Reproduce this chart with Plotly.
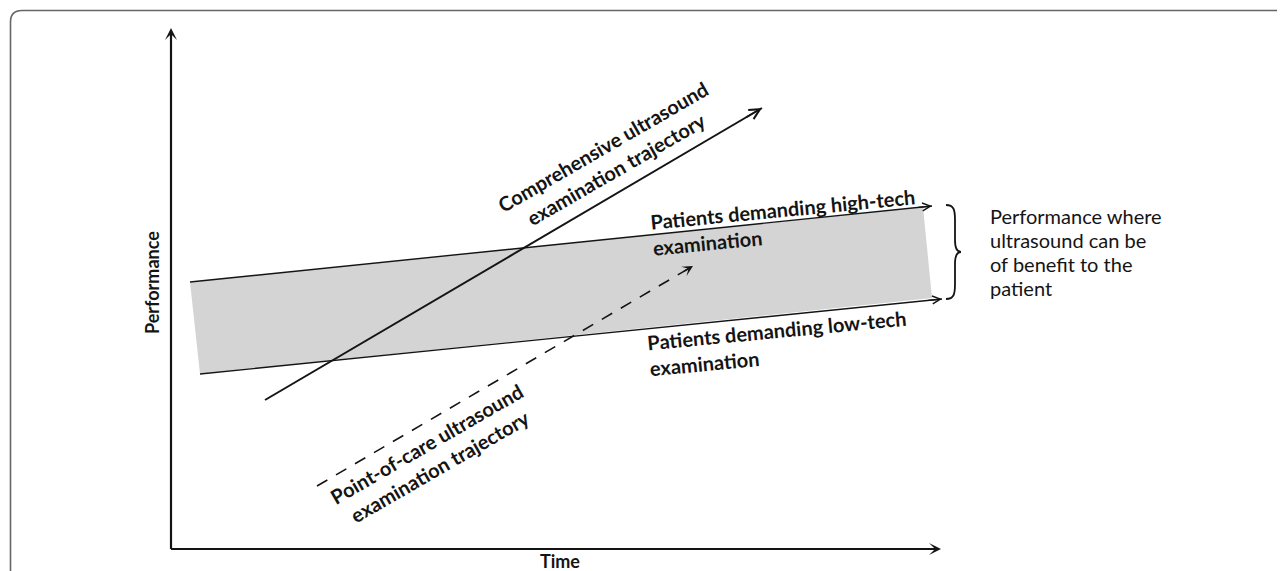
import plotly.graph_objects as go

W, H = 1285, 571
OFF = 8  # page body margin

# --- diagram data (pixel-space coordinates of the conceptual chart) ---
axis_origin = [171, 549]
y_axis_tip = [171, 28]
x_axis_tip = [941, 549]

band_top_x = [190, 932]
band_top_y = [282, 206]
band_bottom_x = [200, 942]
band_bottom_y = [374, 299]
band_fill_x = [190, 923, 932, 200]
band_fill_y = [282, 207, 298, 374]

comp_x = [265, 762]
comp_y = [400, 108]
poc_x = [317, 693]
poc_y = [486, 266]

note_lines = ["Performance where", "ultrasound can be", "of benefit to the", "patient"]
note_y = [216, 240, 264, 288]

FONT = "Lato"
INK = "#141414"

fig = go.Figure()

# gray band
fig.add_trace(go.Scatter(x=band_fill_x, y=band_fill_y, fill="toself", mode="none",
                         fillcolor="#d4d4d4", hoverinfo="skip", showlegend=False))
# band edges (lines)
fig.add_trace(go.Scatter(x=band_top_x, y=band_top_y, mode="lines",
                         line=dict(color=INK, width=1.4), hoverinfo="skip", showlegend=False))
fig.add_trace(go.Scatter(x=band_bottom_x, y=band_bottom_y, mode="lines",
                         line=dict(color=INK, width=1.4), hoverinfo="skip", showlegend=False))
# comprehensive trajectory
fig.add_trace(go.Scatter(x=comp_x, y=comp_y, mode="lines",
                         line=dict(color=INK, width=2), hoverinfo="skip", showlegend=False))
# point-of-care trajectory (dashed)
fig.add_trace(go.Scatter(x=poc_x, y=poc_y, mode="lines",
                         line=dict(color=INK, width=1.6, dash="12px,10px"),
                         hoverinfo="skip", showlegend=False))
# axes
fig.add_trace(go.Scatter(x=[axis_origin[0], y_axis_tip[0]], y=[axis_origin[1], y_axis_tip[1] + 6],
                         mode="lines", line=dict(color=INK, width=2.2),
                         hoverinfo="skip", showlegend=False))
fig.add_trace(go.Scatter(x=[axis_origin[0], x_axis_tip[0] - 6], y=[axis_origin[1], x_axis_tip[1]],
                         mode="lines", line=dict(color=INK, width=2.2),
                         hoverinfo="skip", showlegend=False))

ann = []


def arrow_head(tip_x, tip_y, from_x, from_y, head, width, size):
    ann.append(dict(x=tip_x, y=tip_y, ax=from_x, ay=from_y, xref="x", yref="y",
                    axref="x", ayref="y", showarrow=True, arrowhead=head,
                    arrowwidth=width, arrowsize=size, arrowcolor=INK, text=""))


def along(xs, ys, back):
    dx, dy = xs[1] - xs[0], ys[1] - ys[0]
    L = (dx * dx + dy * dy) ** 0.5
    return xs[1] - dx / L * back, ys[1] - dy / L * back


# axis arrowheads
arrow_head(y_axis_tip[0], y_axis_tip[1], y_axis_tip[0], y_axis_tip[1] + 20, 3, 2, 1)
arrow_head(x_axis_tip[0], x_axis_tip[1], x_axis_tip[0] - 20, x_axis_tip[1], 3, 2, 1)
# trajectory arrowheads
fx, fy = along(comp_x, comp_y, 20)
arrow_head(comp_x[1], comp_y[1], fx, fy, 5, 1.6, 1.3)
fx, fy = along(poc_x, poc_y, 12)
arrow_head(poc_x[1], poc_y[1], fx, fy, 3, 1.6, 1.1)
fx, fy = along(band_top_x, band_top_y, 15)
arrow_head(band_top_x[1], band_top_y[1], fx, fy, 5, 1.2, 1.3)
fx, fy = along(band_bottom_x, band_bottom_y, 15)
arrow_head(band_bottom_x[1], band_bottom_y[1], fx, fy, 5, 1.2, 1.3)


def label(x, y, text, angle=0, size=17, bold=True, anchor="center", align="center"):
    t = f"<b>{text}</b>" if bold else text
    ann.append(dict(x=x, y=y, xref="x", yref="y", text=t, showarrow=False,
                    textangle=angle, xanchor=anchor, yanchor="middle", align=align,
                    font=dict(family=FONT, size=size, color=INK)))


label(152, 283, "Performance", angle=-90, size=18)
label(560, 561, "Time", size=18)
label(609, 158, "Comprehensive ultrasound<br>examination trajectory", angle=-30, size=20)
label(433, 455, "Point-of-care ultrasound<br>examination trajectory", angle=-30, size=20)
label(784, 222, "Patients demanding high-tech<br>examination", angle=-5.5, size=20,
      align="left")
label(778, 343, "Patients demanding low-tech<br>examination", angle=-5.5, size=20,
      align="left")
for t, yy in zip(note_lines, note_y):
    label(988, yy, t, size=20, bold=False, anchor="left", align="left")

shapes = [
    # frame (top-left rounded corner, cropped)
    dict(type="path", xref="x", yref="y",
         path="M 10.5,580 L 10.5,22 Q 10.5,10.5 22,10.5 L 1290,10.5",
         line=dict(color="#666666", width=1.6)),
    # curly brace
    dict(type="path", xref="x", yref="y",
         path="M 946,205 C 954,205 955,210 955,220 L 955,240 C 955,248 957,252 961,252 "
              "C 957,252 955,256 955,264 L 955,284 C 955,294 954,299 946,299",
         line=dict(color=INK, width=1.8)),
]

fig.update_layout(
    width=W - OFF, height=H - OFF, margin=dict(l=0, r=0, t=0, b=0),
    paper_bgcolor="white", plot_bgcolor="white",
    xaxis=dict(range=[OFF, W], visible=False, fixedrange=True),
    yaxis=dict(range=[H, OFF], visible=False, fixedrange=True),
    annotations=ann, shapes=shapes, showlegend=False,
)

fig.write_html("out.html")
